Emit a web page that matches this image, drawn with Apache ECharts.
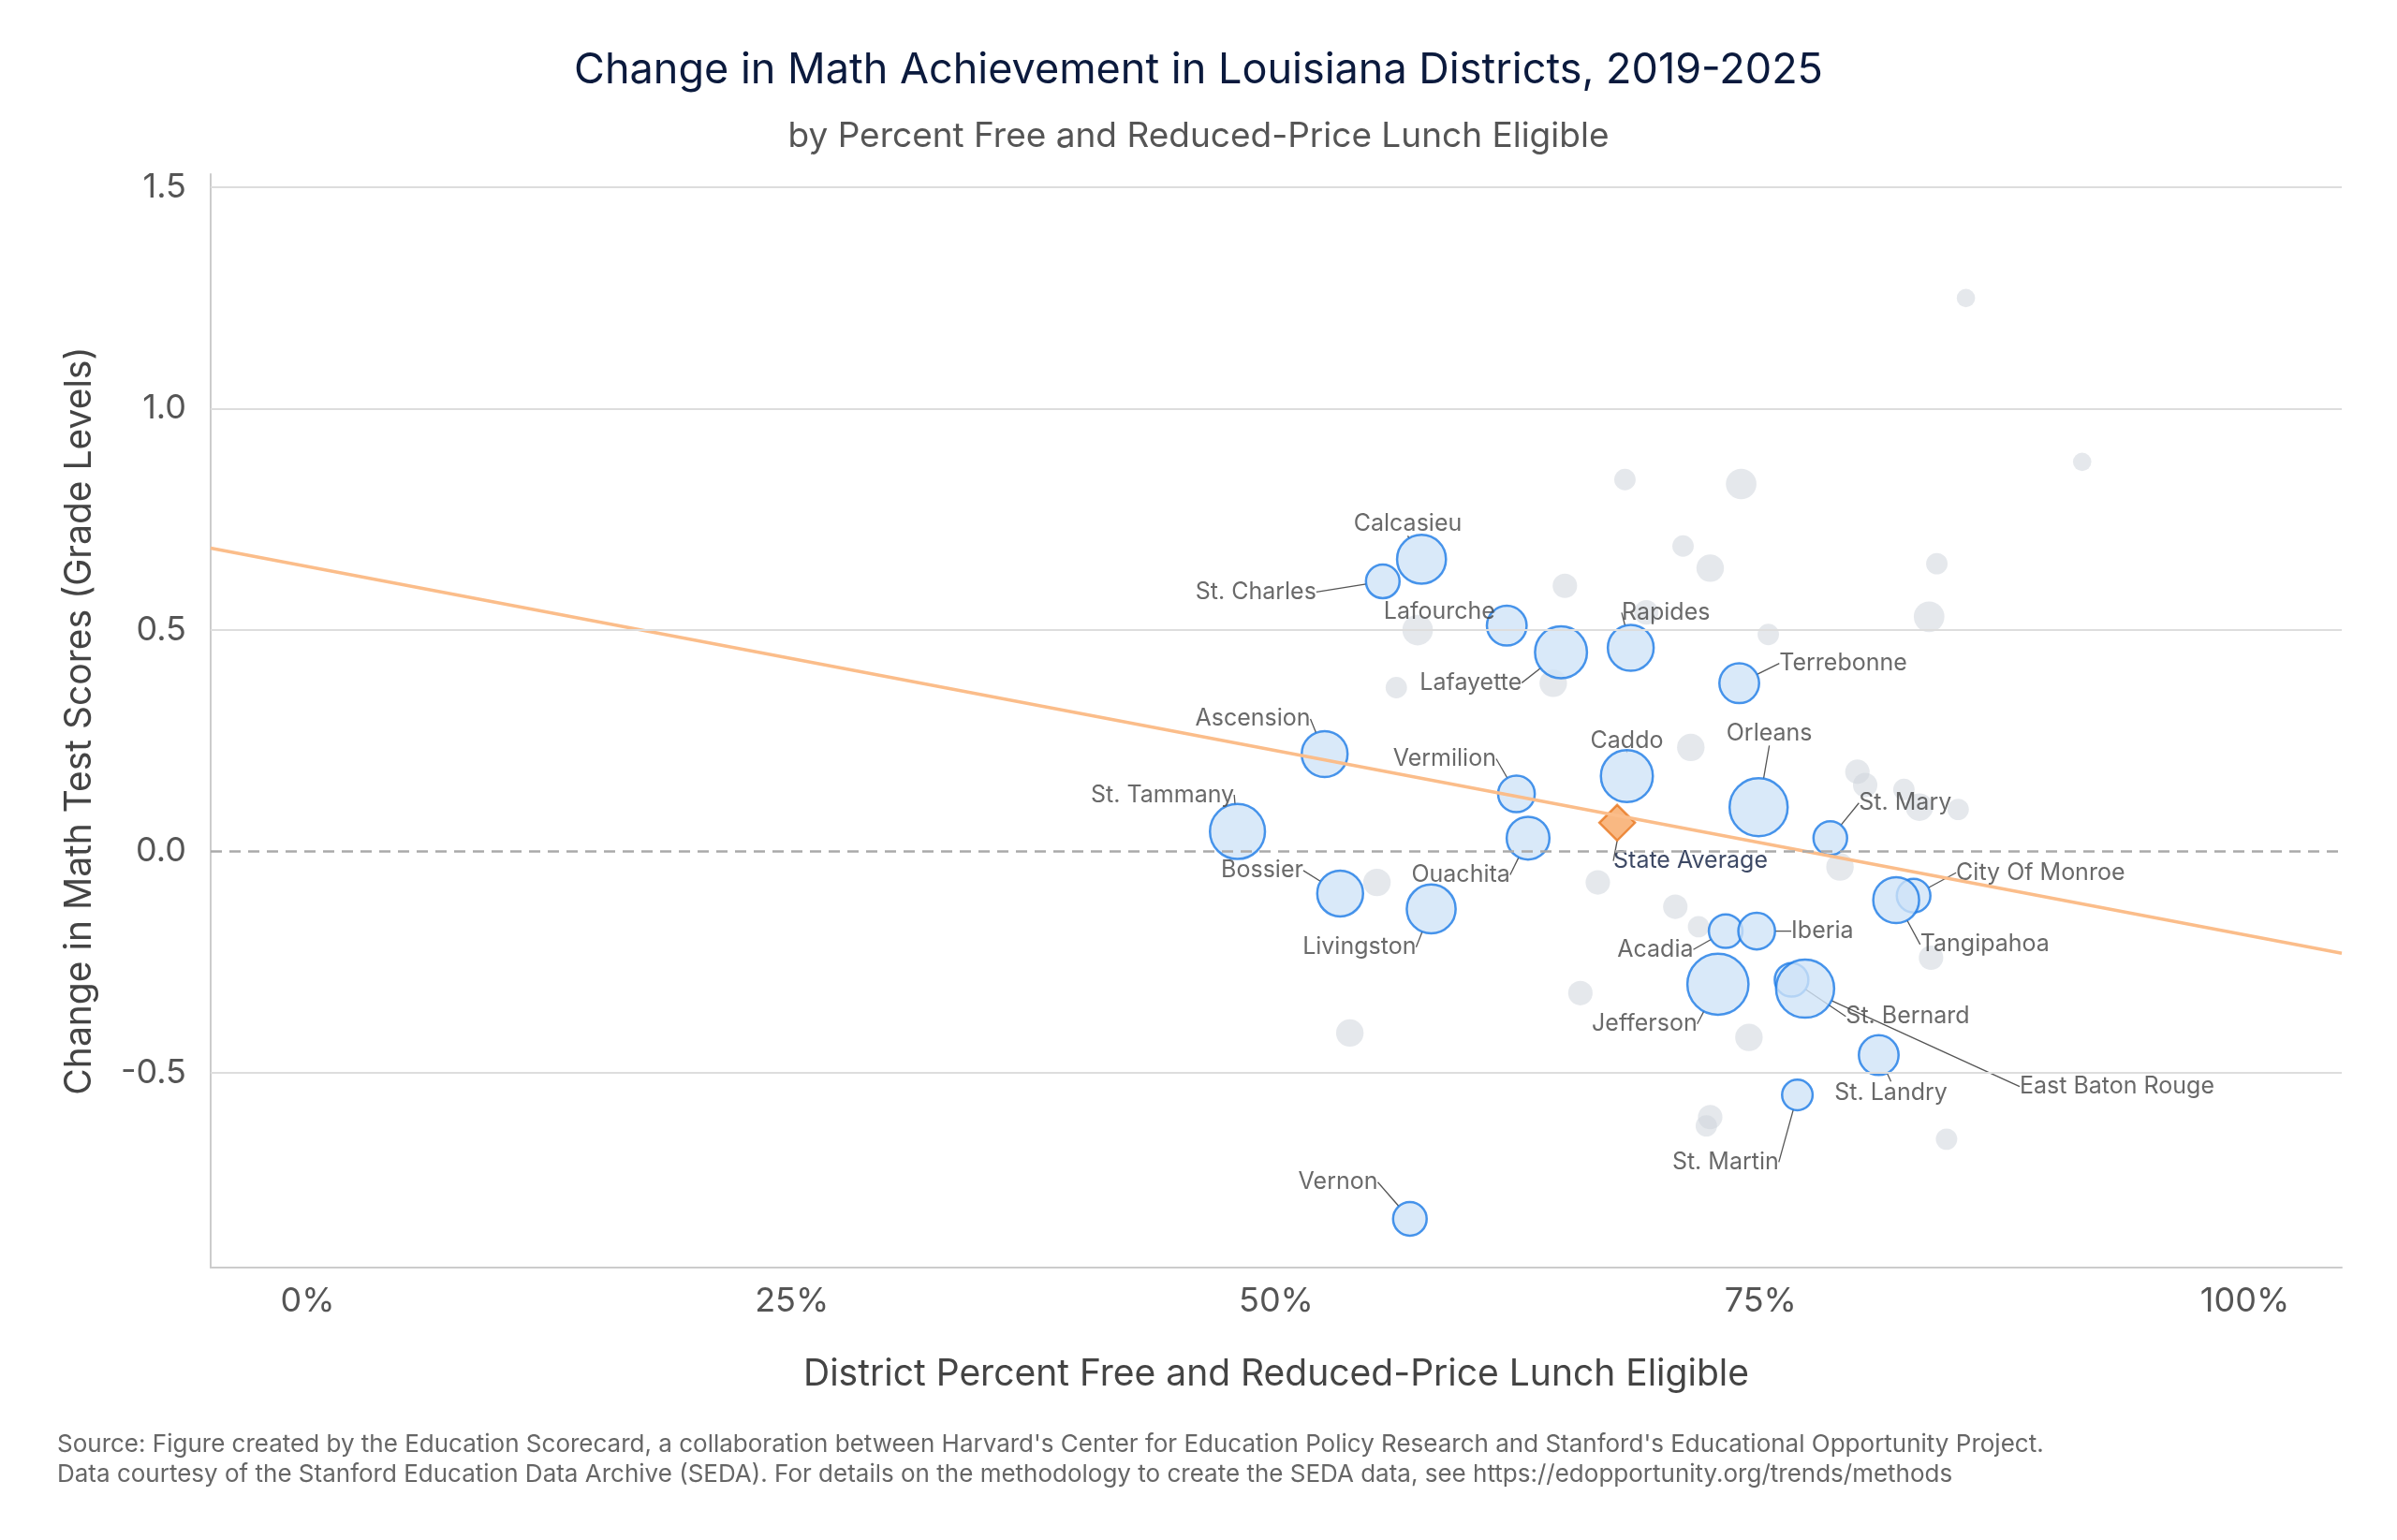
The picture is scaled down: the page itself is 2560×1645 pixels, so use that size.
<!DOCTYPE html>
<html>
<head>
<meta charset="utf-8">
<script src="https://cdn.jsdelivr.net/npm/echarts@6/dist/echarts.min.js"></script>
<style>html,body{margin:0;padding:0;background:#fff}#main{width:2560px;height:1645px}</style>
</head>
<body>
<div id="main"></div>
<script>
// labelled districts
var districts = ['Calcasieu','St. Charles','Lafourche','Lafayette','Rapides','Terrebonne','Ascension','Vermilion','Caddo','Orleans','St. Mary','St. Tammany','Ouachita','Bossier','Livingston','City Of Monroe','Tangipahoa','Acadia','Iberia','Jefferson','St. Bernard','East Baton Rouge','St. Landry','St. Martin','Vernon'];
var distFrl = [57.5,55.5,61.9,64.7,68.3,73.9,52.5,62.4,68.1,74.9,78.6,48.0,63.0,53.3,58.0,82.9,82.0,73.2,74.8,72.8,76.6,77.3,81.1,76.9,56.9];
var distChange = [0.66,0.61,0.51,0.45,0.46,0.38,0.22,0.13,0.17,0.10,0.03,0.045,0.03,-0.095,-0.13,-0.10,-0.11,-0.18,-0.18,-0.30,-0.29,-0.31,-0.46,-0.55,-0.83];
var distSize = [16,11,13,17,15,13,15,12,17,19,11,18,14,15,16,11,15,11,12,20,11,19,13,10,11];

// other districts (gray)
var otherFrl = [85.6,91.6,68.0,74.0,71.0,72.4,84.1,64.9,69.1,83.7,57.3,75.4,56.2,64.3,71.4,80.0,80.4,82.4,83.2,85.2,79.1,55.2,66.6,70.6,71.8,83.8,65.7,53.8,74.4,72.4,72.2,84.6];
var otherChange = [1.25,0.88,0.84,0.83,0.69,0.64,0.65,0.60,0.54,0.53,0.50,0.49,0.37,0.38,0.235,0.18,0.15,0.14,0.10,0.095,-0.035,-0.07,-0.07,-0.125,-0.17,-0.24,-0.32,-0.41,-0.42,-0.60,-0.62,-0.65];
var otherSize = [6,6,7,10,7,9,7,8,8,10,10,7,7,9,9,8,8,7,9,7,9,9,8,8,7,8,8,9,9,8,7,7];

var stateAvg = [67.6, 0.065];
var trendLine = [[-5, 0.685], [105, -0.23]];
var xTicks = [0, 25, 50, 75, 100];
var yTicks = [-0.5, 0, 0.5, 1.0, 1.5];

var S = 1.633;
// label offsets for the leader lines
var labelOffsets = {
  'Calcasieu':[-9,-23],'St. Charles':[-83,7],'Lafourche':[-44,-9],'Lafayette':[-59,20],
  'Rapides':[23,-23],'Terrebonne':[68,-13],'Ascension':[-47,-23],'Vermilion':[-47,-23],
  'Caddo':[0,-23],'Orleans':[7,-48],'St. Mary':[49,-23],'St. Tammany':[-49,-24],
  'Ouachita':[-44,24],'Bossier':[-51,-15],'Livingston':[-47,25],'City Of Monroe':[83,-15],
  'Tangipahoa':[58,29],'Acadia':[-46,12],'Iberia':[43,0],'Jefferson':[-48,26],
  'St. Bernard':[76,24],'East Baton Rouge':[204,64],'St. Landry':[8,25],'St. Martin':[-47,44],
  'Vernon':[-47,-24],'State Average':[48,25]
};

var distData = districts.map(function (n, i) { return {name: n, value: [distFrl[i], distChange[i]], r: distSize[i]}; });
var otherData = otherFrl.map(function (x, i) { return {value: [x, otherChange[i]], r: otherSize[i]}; });

function layoutFor(names) {
  return function (p) {
    var n = names[p.dataIndex];
    var o = labelOffsets[n] || [0, 0];
    return {
      x: p.rect.x + p.rect.width / 2 + o[0] * S,
      y: p.rect.y + p.rect.height / 2 + o[1] * S,
      align: 'center', verticalAlign: 'middle'
    };
  };
}

var chart = echarts.init(document.getElementById('main'));
var FONT = 'Inter';
var option = {
  textStyle: {fontFamily: FONT},
  title: [{
    text: 'Change in Math Achievement in Louisiana Districts, 2019-2025',
    left: 'center', top: 48,
    textStyle: {fontSize: 45, fontWeight: 'normal', color: '#0b1a3d', fontFamily: FONT}
  }, {
    text: 'by Percent Free and Reduced-Price Lunch Eligible',
    left: 'center', top: 122,
    textStyle: {fontSize: 37, fontWeight: 'normal', color: '#555', fontFamily: FONT}
  }, {
    text: "Source: Figure created by the Education Scorecard, a collaboration between Harvard's Center for Education Policy Research and Stanford's Educational Opportunity Project.\nData courtesy of the Stanford Education Data Archive (SEDA). For details on the methodology to create the SEDA data, see https://edopportunity.org/trends/methods",
    left: 56, top: 1522,
    textStyle: {fontSize: 26, fontWeight: 'normal', color: '#666', lineHeight: 32, fontFamily: FONT}
  }],
  grid: {left: 225, right: 59, top: 186, bottom: 291},
  xAxis: {
    type: 'value', min: -5, max: 105,
    name: 'District Percent Free and Reduced-Price Lunch Eligible',
    nameLocation: 'middle', nameGap: 95,
    nameTextStyle: {fontSize: 39, color: '#444', fontFamily: FONT},
    axisLine: {show: true, onZero: false, lineStyle: {color: '#ccc', width: 2}},
    axisTick: {show: false, customValues: xTicks},
    splitLine: {show: false},
    axisLabel: {customValues: xTicks, fontSize: 36, color: '#555', margin: 18, formatter: function (v) { return v + '%'; }}
  },
  yAxis: {
    type: 'value', min: -0.94, max: 1.53,
    name: 'Change in Math Test Scores (Grade Levels)',
    nameLocation: 'middle', nameGap: 120,
    nameTextStyle: {fontSize: 39, color: '#444', fontFamily: FONT},
    axisLine: {show: true, onZero: false, lineStyle: {color: '#ccc', width: 2}},
    axisTick: {show: false, customValues: yTicks},
    splitLine: {show: false},
    axisLabel: {customValues: yTicks, fontSize: 36, color: '#555', margin: 26, formatter: function (v) { return v.toFixed(1); }}
  },
  series: [{
    type: 'line', data: [], silent: true,
    markLine: {
      symbol: 'none', silent: true, label: {show: false},
      data: [
        {yAxis: -0.5, lineStyle: {color: '#ddd', width: 2, type: 'solid'}},
        {yAxis: 0.5, lineStyle: {color: '#ddd', width: 2, type: 'solid'}},
        {yAxis: 1.0, lineStyle: {color: '#ddd', width: 2, type: 'solid'}},
        {yAxis: 1.5, lineStyle: {color: '#ddd', width: 2, type: 'solid'}},
        {yAxis: 0, lineStyle: {color: '#aaa', width: 2.5, type: [12, 8]}}
      ]
    }
  }, {
    type: 'scatter', data: otherData, silent: true,
    symbolSize: function (v, p) { return p.data.r * 2 * S; },
    itemStyle: {color: 'rgba(205,211,219,0.65)'}
  }, {
    type: 'line', data: trendLine, symbol: 'none', silent: true,
    lineStyle: {color: '#fbbd8a', width: 3.5}
  }, {
    type: 'scatter', data: distData,
    symbolSize: function (v, p) { return p.data.r * 2 * S; },
    itemStyle: {color: '#cfe4f8', borderColor: '#1b7be6', borderWidth: 2.5},
    label: {show: true, formatter: '{b}', fontSize: 25, color: '#444', fontFamily: FONT},
    labelLine: {show: true, lineStyle: {color: '#555', width: 1.3}},
    labelLayout: layoutFor(districts)
  }, {
    type: 'scatter', data: [{name: 'State Average', value: stateAvg}],
    symbol: 'diamond', symbolSize: 38,
    itemStyle: {color: '#f7a663', borderColor: '#e8771f', borderWidth: 2.5},
    label: {show: true, formatter: '{b}', fontSize: 25, color: '#0b1a3d', fontFamily: FONT},
    labelLine: {show: true, lineStyle: {color: '#555', width: 1.3}},
    labelLayout: layoutFor(['State Average'])
  }]
};
chart.setOption(option);
</script>
</body>
</html>
